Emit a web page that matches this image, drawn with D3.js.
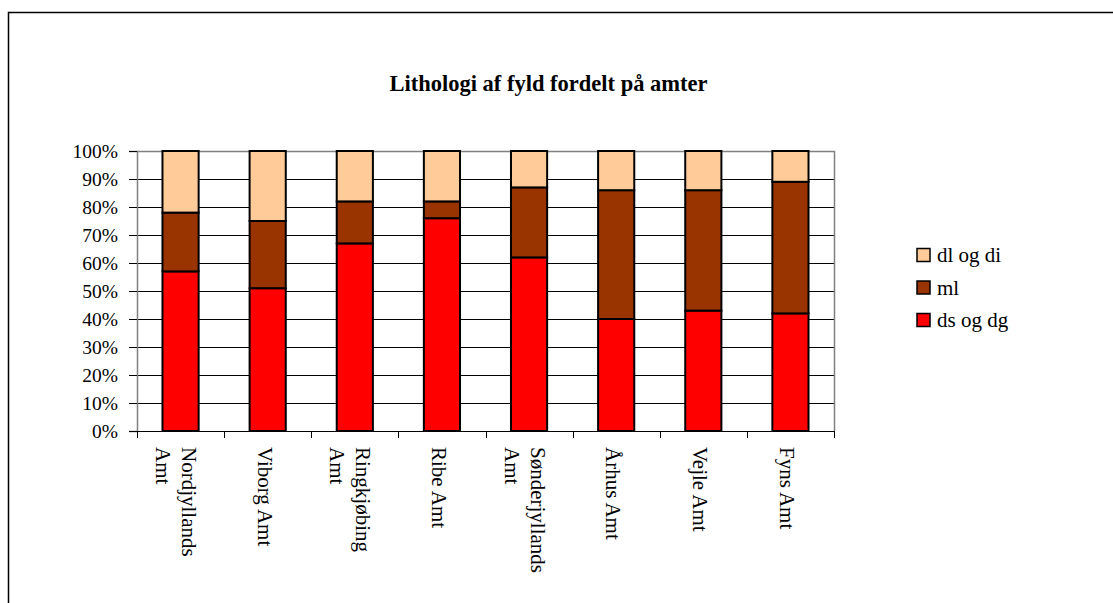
<!DOCTYPE html>
<html>
<head>
<meta charset="utf-8">
<script src="https://cdn.jsdelivr.net/npm/d3@7"></script>
<style>
  html, body { margin: 0; padding: 0; background: #fff; }
  svg { display: block; }
</style>
</head>
<body>
<svg id="chart" width="1113" height="603"></svg>
<script>
// Counties (amter)
const categories = ["Nordjyllands Amt", "Viborg Amt", "Ringkjøbing Amt", "Ribe Amt",
                    "Sønderjyllands Amt", "Århus Amt", "Vejle Amt", "Fyns Amt"];
// Share of each lithology group, in percent
const dsOgDg = [57, 51, 67, 76, 62, 40, 43, 42];
const ml     = [21, 24, 15,  6, 25, 46, 43, 47];
const dlOgDi = [22, 25, 18, 18, 13, 14, 14, 11];
const seriesNames = ["ds og dg", "ml", "dl og di"];
const seriesColors = ["#FF0000", "#993300", "#FFCC99"];
const yTicks = [0, 10, 20, 30, 40, 50, 60, 70, 80, 90, 100];
const title = "Lithologi af fyld fordelt på amter";

const FONT = "'Liberation Serif', 'Times New Roman', serif";
const svg = d3.select("#chart").attr("font-family", FONT);
const W = 1113, H = 603;
const plot = { left: 137, right: 834, top: 151, bottom: 431 };

// outer frame of the chart area
svg.append("path")
  .attr("d", `M8.5,${H + 2} V12.5 H${W + 2}`)
  .attr("fill", "none").attr("stroke", "#000").attr("stroke-width", 1.5);

svg.append("text")
  .attr("x", 548.5).attr("y", 91)
  .attr("text-anchor", "middle")
  .attr("font-family", FONT)
  .attr("font-weight", "bold").attr("font-size", 22.5)
  .text(title);

const table = categories.map((c, i) => ({
  cat: c, "ds og dg": dsOgDg[i], "ml": ml[i], "dl og di": dlOgDi[i]
}));
const stacked = d3.stack().keys(seriesNames)(table);

const x = d3.scaleBand().domain(categories).range([plot.left, plot.right]).paddingInner(0.585).paddingOuter(0.2925);
const y = d3.scaleLinear().domain([0, 100]).range([plot.bottom, plot.top]);

// grid lines
svg.append("g").selectAll("line").data(yTicks.filter(t => t > 0 && t < 100)).join("line")
  .attr("x1", plot.left).attr("x2", plot.right)
  .attr("y1", d => Math.round(y(d)) + 0.5).attr("y2", d => Math.round(y(d)) + 0.5)
  .attr("stroke", "#000").attr("stroke-width", 1);

// plot area border (top, right)
svg.append("path")
  .attr("d", `M${plot.left},${plot.top + 0.5} H${plot.right + 0.5} V${plot.bottom}`)
  .attr("fill", "none").attr("stroke", "#808080").attr("stroke-width", 1.5);

// stacked bars
svg.append("g").selectAll("g").data(stacked).join("g")
  .attr("fill", (d, i) => seriesColors[i])
  .selectAll("rect").data(d => d).join("rect")
  .attr("x", d => x(d.data.cat))
  .attr("width", x.bandwidth())
  .attr("y", d => y(d[1]))
  .attr("height", d => y(d[0]) - y(d[1]))
  .attr("stroke", "#000").attr("stroke-width", 2);

// y axis
const yAxis = d3.axisLeft(y).tickValues(yTicks).tickFormat(d => d + "%").tickSize(8).tickPadding(11);
const gy = svg.append("g").attr("transform", `translate(${plot.left},0)`).call(yAxis)
  .attr("font-family", FONT).attr("font-size", 19.5);
gy.select(".domain").attr("stroke", "#808080").attr("stroke-width", 1.5);
gy.selectAll(".tick line").attr("stroke", "#000");
gy.selectAll(".tick text").attr("fill", "#000").attr("dy", "0.35em");

// x axis: ticks at the category boundaries
const boundaries = d3.range(categories.length + 1).map(i => plot.left + i * (plot.right - plot.left) / categories.length);
svg.append("line")
  .attr("x1", plot.left - 8).attr("x2", plot.right + 0.5)
  .attr("y1", plot.bottom + 0.5).attr("y2", plot.bottom + 0.5)
  .attr("stroke", "#000").attr("stroke-width", 1.2);
svg.append("g").selectAll("line").data(boundaries).join("line")
  .attr("x1", d => Math.round(d) + 0.5).attr("x2", d => Math.round(d) + 0.5)
  .attr("y1", plot.bottom).attr("y2", plot.bottom + 7)
  .attr("stroke", "#000");

// rotated category labels, long names wrap before "Amt"
const lineGap = 26;
const labels = svg.append("g").selectAll("text").data(categories).join("text")
  .attr("font-family", FONT)
  .attr("font-size", 21)
  .attr("transform", d => {
    const wrap = d.length > 12;
    const cx = x(d) + x.bandwidth() / 2 + (wrap ? 1.5 : -10);
    return `translate(${cx},447) rotate(90)`;
  });
labels.each(function(d) {
  const cut = d.lastIndexOf(" ");
  const parts = d.length > 12 ? [d.slice(0, cut), d.slice(cut + 1)] : [d];
  d3.select(this).selectAll("tspan").data(parts).join("tspan")
    .attr("x", 0).attr("dy", (p, i) => i === 0 ? 0 : lineGap)
    .text(p => p);
});

// legend
const legendItems = [2, 1, 0];
const lg = svg.append("g");
legendItems.forEach((s, i) => {
  const cy = 255 + i * 32.5;
  lg.append("rect").attr("x", 917).attr("y", cy - 6.5).attr("width", 13).attr("height", 13)
    .attr("fill", seriesColors[s]).attr("stroke", "#000").attr("stroke-width", 1.5);
  lg.append("text").attr("x", 937).attr("y", cy).attr("dy", "0.35em")
    .attr("font-family", FONT)
    .attr("font-size", 21).text(seriesNames[s]);
});
</script>
</body>
</html>
